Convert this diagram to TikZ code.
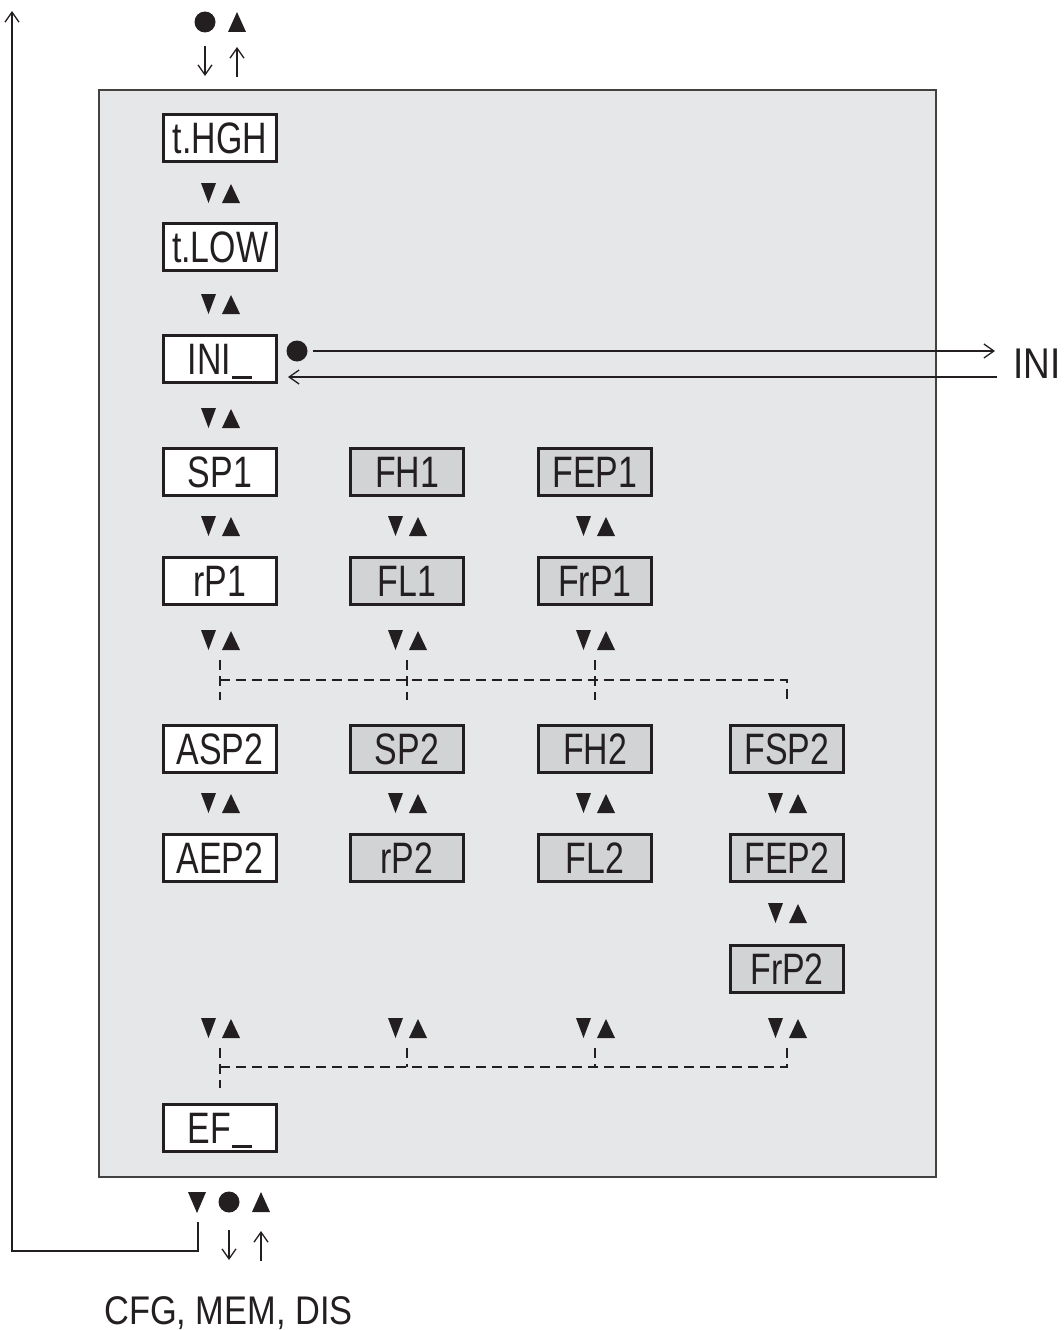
\documentclass[tikz,border=0pt]{standalone}
\usepackage{fontspec}
\setmainfont{Liberation Sans}[FakeStretch=0.77]
\newfontfamily\inifont{Liberation Sans}[FakeStretch=0.86]
\newfontfamily\cfgfont{Liberation Sans}[FakeStretch=0.86]
\usetikzlibrary{arrows.meta}
\definecolor{panel}{HTML}{E6E7E8}
\definecolor{gbox}{HTML}{D1D3D4}
\definecolor{ink}{HTML}{231F20}
\newcommand\uscore{\kern1pt\rule[-4pt]{20pt}{3pt}}
\begin{document}
\begin{tikzpicture}[x=1pt,y=-1pt,
  box/.style={draw=ink, line width=3pt, minimum width=113pt, minimum height=47pt,
    inner sep=0pt, text height=31.5pt, text depth=0pt,
    font=\fontsize{44}{44}\selectfont, text=ink},
  wbox/.style={box, fill=white},
  gbx/.style={box, fill=gbox},
  dot/.style={circle, fill=ink, inner sep=0pt, minimum size=21pt},
  thinline/.style={draw=ink, line width=1.3pt},
  tip/.style={-{Straight Barb[length=10pt,width=14pt,line width=1.3pt]}},
  dashline/.style={draw=ink, line width=1.5pt, dash pattern=on 10pt off 6pt},
  pics/updn/.style={code={
    \fill[ink] (-19,-10) -- (-4,-10) -- (-11.5,10) -- cycle;
    \fill[ink] (2,10) -- (20,10) -- (11,-9) -- cycle;}},
  pics/dntri/.style={code={\fill[ink] (-9,-10) -- (9,-10) -- (0,11) -- cycle;}},
  pics/uptri/.style={code={\fill[ink] (-9,10) -- (9,10) -- (0,-10) -- cycle;}}
]
\useasboundingbox (0,0) rectangle (1064,1330);

% panel
\filldraw[fill=panel, draw=ink!85, line width=1.5pt] (99,90) rectangle (936,1177);

% column 1
\node[wbox] (thgh) at (220,138) {t.HGH};
\node[wbox] (tlow) at (220,247) {t.LOW};
\node[wbox] (ini)  at (220,359) {INI\uscore};
\node[wbox] (sp1)  at (220,472) {SP1};
\node[wbox] (rp1)  at (220,581) {rP1};
\node[wbox] (asp2) at (220,749) {ASP2};
\node[wbox] (aep2) at (220,858) {AEP2};
\node[wbox] (ef)   at (220,1128) {EF\uscore};
% column 2
\node[gbx] (fh1) at (407,472) {FH1};
\node[gbx] (fl1) at (407,581) {FL1};
\node[gbx] (sp2) at (407,749) {SP2};
\node[gbx] (rp2) at (407,858) {rP2};
% column 3
\node[gbx] (fep1) at (595,472) {FEP1};
\node[gbx] (frp1) at (595,581) {FrP1};
\node[gbx] (fh2)  at (595,749) {FH2};
\node[gbx] (fl2)  at (595,858) {FL2};
% column 4
\node[gbx] (fsp2) at (787,749) {FSP2};
\node[gbx] (fep2) at (787,858) {FEP2};
\node[gbx] (frp2) at (787,969) {FrP2};

% up/down triangle pairs
\foreach \y in {193,304,418,526,640,803,1028} \pic at (220,\y) {updn};
\foreach \y in {526,640,803,1028} \pic at (407,\y) {updn};
\foreach \y in {526,640,803,1028} \pic at (595,\y) {updn};
\foreach \y in {803,913,1028} \pic at (787,\y) {updn};

% dashed branches (top)
\coordinate (a1) at (220,660); \coordinate (a2) at (407,660); \coordinate (a3) at (595,660);
\coordinate (b1) at (220,700); \coordinate (b2) at (407,700); \coordinate (b3) at (595,700);
\coordinate (h1) at (220,680); \coordinate (h4) at (787,680); \coordinate (b4) at (787,700);
\draw[dashline] (a1) -- (b1);
\draw[dashline] (a2) -- (b2);
\draw[dashline] (a3) -- (b3);
\draw[dashline] (h1) -- (h4) -- (b4);

% dashed branches (bottom)
\coordinate (c1) at (220,1048); \coordinate (c2) at (407,1048);
\coordinate (c3) at (595,1048); \coordinate (c4) at (787,1048);
\coordinate (d1) at (220,1088);
\coordinate (k1) at (220,1067); \coordinate (k2) at (407,1067);
\coordinate (k3) at (595,1067); \coordinate (k4) at (787,1067);
\draw[dashline] (c1) -- (d1);
\draw[dashline] (c2) -- (k2);
\draw[dashline] (c3) -- (k3);
\draw[dashline] (c4) -- (k4) -- (k1);

% INI branch
\node[dot] (inidot) at (297,351) {};
\coordinate (iniout) at (995,351);
\coordinate (iniin) at (997,377);
\coordinate (iniback) at (288,377);
\draw[thinline, tip] ([xshift=5pt]inidot.east) -- (iniout);
\draw[thinline, tip] (iniin) -- (iniback);
\node[anchor=base west, inner sep=0pt, font=\inifont\fontsize{43}{43}\selectfont, text=ink] (initxt) at (1013,378) {INI};

% top entry
\node[dot] (topdot) at (205,22) {};
\pic at (237,22) {uptri};
\coordinate (td1) at (205,46); \coordinate (td2) at (205,76);
\coordinate (tu1) at (237,77); \coordinate (tu2) at (237,47);
\draw[thinline, tip] (td1) -- (td2);
\draw[thinline, tip] (tu1) -- (tu2);

% bottom exit
\pic at (197,1202) {dntri};
\node[dot] (botdot) at (229,1202) {};
\pic at (261,1202) {uptri};
\coordinate (bd1) at (229,1230); \coordinate (bd2) at (229,1260);
\coordinate (bu1) at (261,1261); \coordinate (bu2) at (261,1231);
\draw[thinline, tip] (bd1) -- (bd2);
\draw[thinline, tip] (bu1) -- (bu2);

% return loop
\coordinate (l1) at (198,1222); \coordinate (l2) at (198,1251);
\coordinate (l3) at (12,1251); \coordinate (l4) at (12,11);
\draw[thinline, tip] (l1) -- (l2) -- (l3) -- (l4);

\node[anchor=base west, inner sep=0pt, font=\cfgfont\fontsize{40}{40}\selectfont, text=ink] (cfg) at (104,1324) {CFG, MEM, DIS};
\end{tikzpicture}
\end{document}
